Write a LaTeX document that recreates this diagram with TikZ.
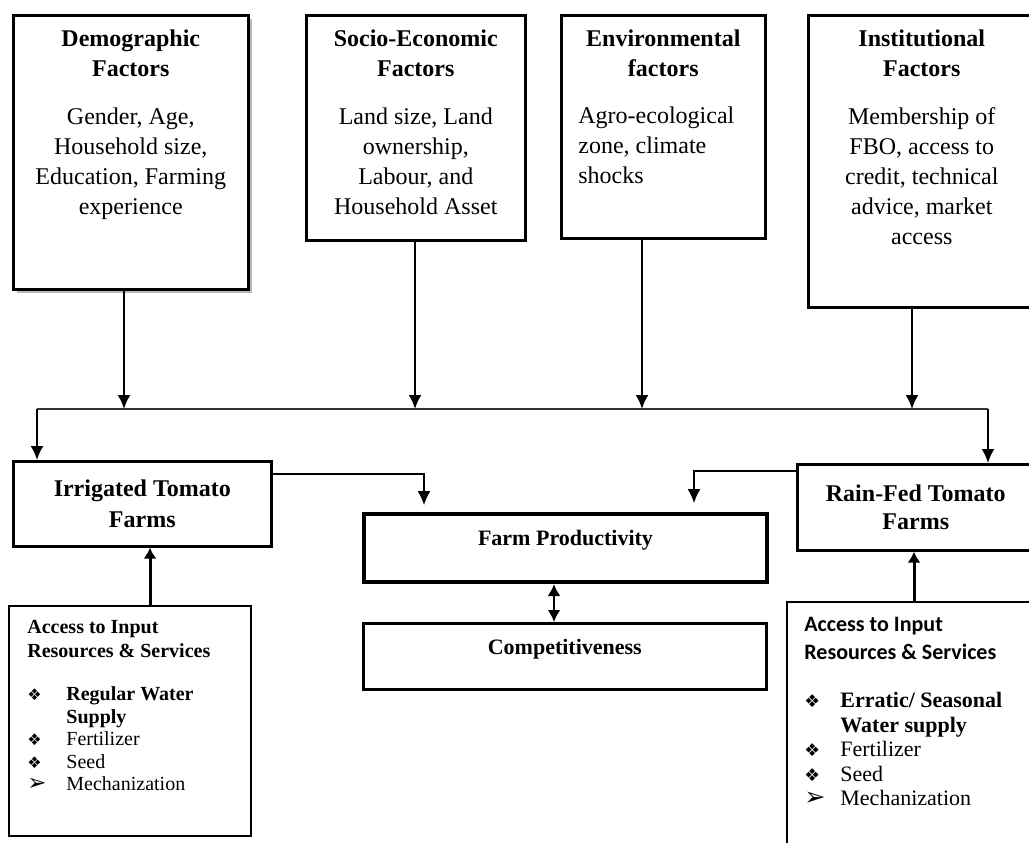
\documentclass[tikz,border=0pt]{standalone}
\usepackage{fontspec}
\setmainfont{Liberation Serif}
\newfontfamily\carlito{Carlito}
\newfontfamily\dingfont[Scale=0.8]{DejaVu Sans}
\newfontfamily\arwfont[Scale=1.15]{DejaVu Sans}
\usetikzlibrary{positioning, calc, arrows.meta, shadows}
\newcommand{\bul}[1][19.5pt]{\makebox[#1][l]{\dingfont ❖}}
\newcommand{\arw}[1][19.5pt]{\makebox[#1][l]{\arwfont ➢}}

\begin{document}
\begin{tikzpicture}[x=0.5pt, y=-0.5pt,
	box/.style={draw, line width=1.3pt, inner sep=0pt, anchor=north west},
	ttl/.style={font=\bfseries\fontsize{12}{15}\selectfont, align=center, inner sep=0pt, anchor=north},
	bdy/.style={font=\fontsize{12}{15}\selectfont, align=center, inner sep=0pt},
	arr/.style={-{Latex[length=7pt,width=6.5pt]}, line width=1pt},
	link/.style={-{Latex[length=7pt,width=6.5pt]}, line width=0.65pt},
	thk/.style={-{Latex[length=5.5pt,width=6.5pt]}, line width=1.5pt}]
	\useasboundingbox (0,0) rectangle (1029,842);
	
	\node[box, drop shadow={shadow xshift=2pt, shadow yshift=-2pt, fill=gray!55, opacity=1}, fill=white, minimum width=117.5pt, minimum height=137pt] (demo) at (12,14) {};
	\node[box, minimum width=109.5pt, minimum height=112.5pt] (socio) at (305,14) {};
	\node[box, minimum width=102pt, minimum height=111.5pt] (env) at (560,14) {};
	\node[box, minimum width=113.5pt, minimum height=146pt] (inst) at (807,14) {};
	
	\node[ttl] (demottl) at ($(demo.north)+(0,15)$) {Demographic\\Factors};
	\node[bdy, below=15.5pt of demottl] (demotxt) {Gender, Age,\\Household size,\\Education, Farming\\experience};
	\node[ttl] (sociottl) at ($(socio.north)+(0,15)$) {Socio-Economic\\Factors};
	\node[bdy, below=15.5pt of sociottl] (sociotxt) {Land size, Land\\ownership,\\Labour, and\\Household Asset};
	\node[ttl] (envttl) at ($(env.north)+(0,15)$) {Environmental\\factors};
	\node[bdy, align=left, anchor=north west] (envtxt) at ($(env.north west)+(18,92)$) {Agro-ecological\\zone, climate\\shocks};
	\node[ttl] (instttl) at ($(inst.north)+(0,15)$) {Institutional\\Factors};
	\node[bdy, below=15.5pt of instttl] (insttxt) {Membership of\\FBO, access to\\credit, technical\\advice, market\\access};
	
	\node[box, minimum width=129pt, minimum height=42.5pt, font=\bfseries\fontsize{12}{15.5}\selectfont, align=center] (irr) at (12,460) {Irrigated Tomato\\Farms};
	\node[box, minimum width=118.5pt, minimum height=43pt, font=\bfseries\fontsize{12}{14}\selectfont, align=center] (rain) at (796,463) {Rain-Fed Tomato\\Farms};
	\node[box, line width=2pt, minimum width=201.5pt, minimum height=34pt, font=\bfseries\fontsize{11}{13}\selectfont, text depth=10.5pt] (prod) at (362,512) {Farm Productivity};
	\node[box, minimum width=201.5pt, minimum height=33pt, font=\bfseries\fontsize{11}{13}\selectfont, text depth=9.4pt] (comp) at (362,622) {Competitiveness};
	
	\node[box, line width=1.2pt, minimum width=121pt, minimum height=115pt] (acc1) at (8,605) {};
	\node[align=left, inner sep=0pt, anchor=north west, font=\bfseries\fontsize{10}{12}\selectfont] (acc1hd) at ($(acc1.north west)+(19,14.5)$) {Access to Input\\Resources \& Services};
	\node[align=left, inner sep=0pt, below=14.25pt of acc1hd.south west, anchor=north west, font=\fontsize{10}{11.25}\selectfont] (acc1lst) {\bul\textbf{Regular Water}\\\makebox[19.5pt]{}\textbf{Supply}\\\bul Fertilizer\\\bul Seed\\\arw Mechanization};
	\node[box, line width=1.2pt, minimum width=127pt, minimum height=124.5pt] (acc2) at (786,601) {};
	\node[align=left, inner sep=0pt, anchor=north west, font=\carlito\bfseries\fontsize{11}{14}\selectfont] (acc2hd) at ($(acc2.north west)+(18,16)$) {Access to Input\\Resources \& Services};
	\node[align=left, inner sep=0pt, below=16pt of acc2hd.south west, anchor=north west, font=\fontsize{11}{12.25}\selectfont] (acc2lst) {\bul[18pt]\textbf{Erratic/ Seasonal}\\\makebox[18pt]{}\textbf{Water supply}\\\bul[18pt]Fertilizer\\\bul[18pt]Seed\\\arw[18pt]Mechanization};
	
	\coordinate (bl) at (37,409);
	\coordinate (br) at (988,409);
	\coordinate (b1) at (124,409);
	\coordinate (b2) at (415,409);
	\coordinate (b3) at (642,409);
	\coordinate (b4) at (912,409);
	\coordinate (p1) at (424,0);
	\coordinate (p2) at (694,0);
	\coordinate (d1) at (554,0);
	\coordinate (a1) at (150,0);
	\coordinate (a2) at (914,0);
	
	\draw[arr] (demo.south -| b1) -- (b1);
	\draw[arr] (socio.south -| b2) -- (b2);
	\draw[arr] (env.south -| b3) -- (b3);
	\draw[arr] (inst.south -| b4) -- (b4);
	\draw[line width=0.65pt, black!80] (bl) -- (br);
	\draw[arr] (bl) -- (irr.north -| bl);
	\draw[arr] (br) -- (rain.north -| br);
	\draw[link] ([yshift=-7pt]irr.north east) -| ($(prod.north -| p1)+(0,-7)$);
	\draw[link] ([yshift=-4pt]rain.north west) -| ($(prod.north -| p2)+(0,-9)$);
	\draw[{Latex[length=6pt,width=6.5pt]}-{Latex[length=6pt,width=6.5pt]}, line width=1.3pt] (prod.south -| d1) -- (comp.north -| d1);
	\draw[thk] (acc1.north -| a1) -- (irr.south -| a1);
	\draw[thk] (acc2.north -| a2) -- (rain.south -| a2);
\end{tikzpicture}
\end{document}
